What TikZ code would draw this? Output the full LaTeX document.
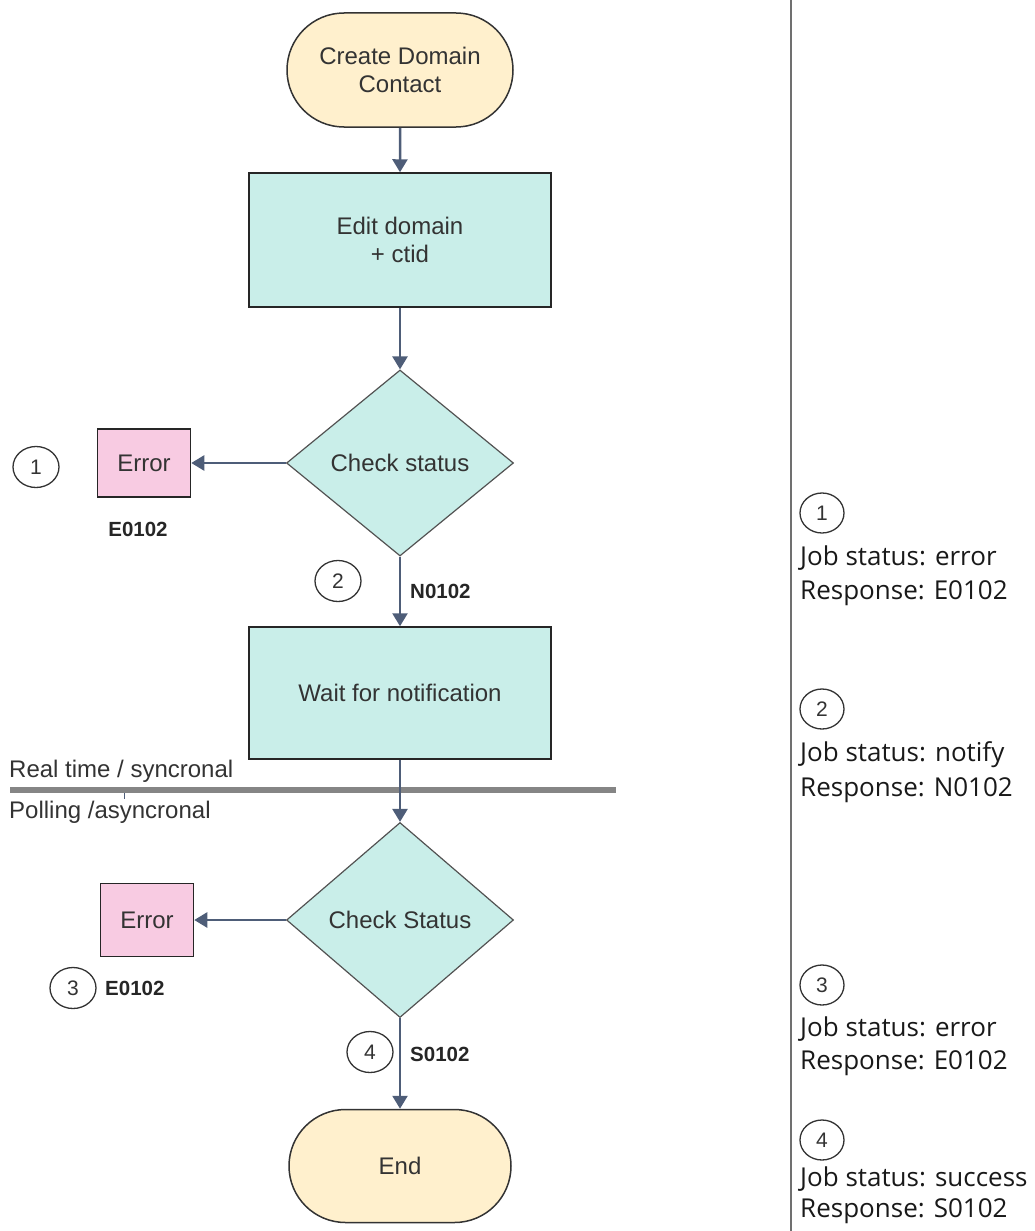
\documentclass[tikz,border=0pt]{standalone}
\usepackage{fontspec}
\setmainfont{Liberation Sans}
\newfontfamily\osans{Open Sans}
\usetikzlibrary{shapes.geometric,shapes.misc,arrows.meta}
\definecolor{cream}{HTML}{FFF0CD}
\definecolor{aqua}{HTML}{C9EEE9}
\definecolor{pinkish}{HTML}{F8CBE2}
\definecolor{slate}{HTML}{4E5D78}
\definecolor{outl}{HTML}{333333}
\definecolor{txt}{HTML}{333333}
\definecolor{divgray}{HTML}{858585}
\definecolor{sidegray}{HTML}{707070}
\begin{document}
\begin{tikzpicture}[x=1pt,y=-1pt,
  mainfont/.style={font=\fontsize{24}{28}\selectfont},
  term/.style={rounded rectangle, draw=outl, line width=1.5pt, fill=cream,
    minimum width=226pt, minimum height=114pt, inner sep=0pt, text=txt,
    mainfont, align=center},
  procbox/.style={rectangle, draw=black!85, line width=1.5pt, fill=aqua,
    minimum width=302pt, inner sep=0pt, text=txt, mainfont, align=center},
  decision/.style={diamond, draw=outl!85, line width=1.2pt, fill=aqua,
    minimum width=227pt, inner sep=0pt, text=txt, mainfont},
  errbox/.style={rectangle, draw=black!85, line width=1.5pt, fill=pinkish,
    minimum width=93pt, inner sep=0pt, text=txt, mainfont},
  flow/.style={draw=slate, line width=2.5pt, -{Triangle[length=13pt,width=15pt]}},
  numcirc/.style={ellipse, draw=outl, line width=1.3pt, minimum width=46pt,
    minimum height=41pt, inner sep=0pt, font=\fontsize{21}{24}\selectfont, text=txt},
  sidecirc/.style={numcirc, minimum width=44pt, minimum height=40pt},
  codelbl/.style={font=\bfseries\fontsize{20.5}{24}\selectfont, text=black!85, inner sep=0pt},
  lanelbl/.style={mainfont, text=txt, inner sep=0pt, anchor=west},
  note/.style={font=\osans\fontsize{26}{30}\selectfont, anchor=base west,
    inner sep=0pt, text=black!90}
]
\useasboundingbox (0,0) rectangle (1034,1231);

% right separator
\draw[sidegray, line width=2pt] (791,0) -- (791,1231);

% divider between real time and polling
\draw[divgray, line width=5.5pt] (10,790) -- (616,790);
\draw[slate, line width=1pt] (124,793) -- (124,799);
\node[lanelbl] (rt) at (9,771) {Real time / syncronal};
\node[lanelbl] (poll) at (9,812) {Polling /asyncronal};

% flow nodes
\node[term] (start) at (400,70) {Create Domain\\Contact};
\node[procbox, minimum height=134pt] (edit) at (400,240) {Edit domain\\+ ctid};
\node[decision, minimum height=186pt] (chk1) at (400,463) {Check status};
\node[errbox, minimum height=68pt] (err1) at (144,463) {Error};
\node[procbox, minimum height=132pt] (wait) at (400,693) {Wait for notification};
\node[decision, minimum height=195pt] (chk2) at (400,920) {Check Status};
\node[errbox, minimum height=73pt] (err2) at (147,920) {Error};
\node[term, minimum width=222pt, minimum height=113pt] (end) at (400,1166) {End};

% connectors
\draw[flow] (start) -- (edit);
\draw[flow] (edit) -- (chk1);
\draw[flow] (chk1.west) -- (err1.east);
\draw[flow] (chk1) -- (wait);
\draw[flow] (wait) -- (chk2);
\draw[flow] (chk2.west) -- (err2.east);
\draw[flow] (chk2) -- (end);

% markers and codes
\node[numcirc] (c1) at (36,467) {1};
\node[codelbl] (e1) at (138,529) {E0102};
\node[numcirc] (c2) at (338,581) {2};
\node[codelbl, anchor=west] (n1) at (410,591) {N0102};
\node[numcirc] (c3) at (73,988) {3};
\node[codelbl, anchor=west] (e3) at (105,988) {E0102};
\node[numcirc] (c4) at (370,1052) {4};
\node[codelbl, anchor=west] (s1) at (410,1054) {S0102};

% side notes
\node[sidecirc] (r1) at (822,513) {1};
\node[note] (r1a) at (800,565) {Job status: error};
\node[note] (r1b) at (800,599) {Response: E0102};
\node[sidecirc] (r2) at (822,709) {2};
\node[note] (r2a) at (800,761) {Job status: notify};
\node[note] (r2b) at (800,796) {Response: N0102};
\node[sidecirc] (r3) at (822,985) {3};
\node[note] (r3a) at (800,1036) {Job status: error};
\node[note] (r3b) at (800,1069) {Response: E0102};
\node[sidecirc] (r4) at (822,1140) {4};
\node[note] (r4a) at (800,1186) {Job status: success};
\node[note] (r4b) at (800,1217) {Response: S0102};
\end{tikzpicture}
\end{document}
